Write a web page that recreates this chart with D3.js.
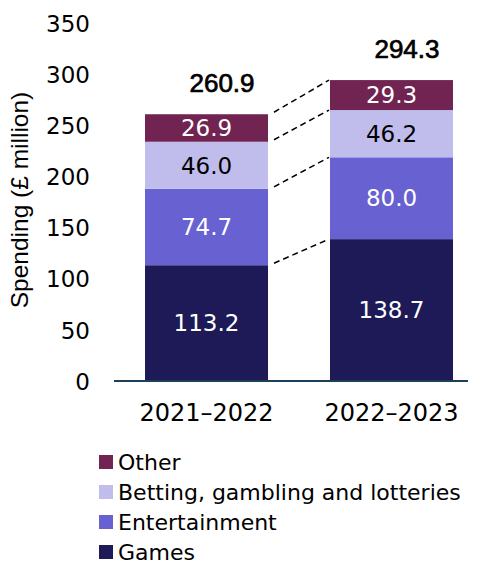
<!DOCTYPE html>
<html>
<head>
<meta charset="utf-8">
<script src="https://cdn.jsdelivr.net/npm/d3@7"></script>
<style>
  body { margin: 0; background: #fff; }
  svg { display: block; font-family: "DejaVu Sans", sans-serif; }
</style>
</head>
<body>
<svg id="chart" width="479" height="566"></svg>
<script>
// Spending by category, £ million
const periods = ["2021\u20132022", "2022\u20132023"];
const seriesNames = ["Games", "Entertainment", "Betting, gambling and lotteries", "Other"];
const games = [113.2, 138.7];
const entertainment = [74.7, 80.0];
const betting = [46.0, 46.2];
const other = [26.9, 29.3];
const totals = [260.9, 294.3];
const yTicks = [0, 50, 100, 150, 200, 250, 300, 350];

const colors = {
  "Games": "#1d1a57",
  "Entertainment": "#6861d2",
  "Betting, gambling and lotteries": "#c0bcec",
  "Other": "#712452"
};
const labelColors = {
  "Games": "#fff",
  "Entertainment": "#fff",
  "Betting, gambling and lotteries": "#000",
  "Other": "#fff"
};

const table = periods.map((p, i) => ({
  period: p,
  "Games": games[i],
  "Entertainment": entertainment[i],
  "Betting, gambling and lotteries": betting[i],
  "Other": other[i],
  total: totals[i]
}));

const svg = d3.select("#chart");

const y = d3.scaleLinear().domain([0, 350]).range([381, 23]);
const x = d3.scaleBand().domain(periods).range([114, 484])
  .paddingInner(0.335).paddingOuter(0.1676);

const stack = d3.stack().keys(seriesNames);
const layers = stack(table);

// y-axis tick labels (no domain line, no tick marks)
const yAxis = d3.axisLeft(y).tickValues(yTicks).tickSize(0).tickPadding(0);
const gy = svg.append("g").attr("transform", "translate(90,0)").call(yAxis);
gy.select(".domain").remove();
gy.selectAll("text")
  .attr("font-family", "DejaVu Sans, sans-serif")
  .attr("font-size", 23)
  .attr("fill", "#000")
  .attr("dy", "0.36em");

// y-axis title
svg.append("text")
  .attr("transform", `translate(28,200) rotate(-90)`)
  .attr("text-anchor", "middle")
  .attr("font-family", "Liberation Sans, Arial, sans-serif")
  .attr("font-size", 24.5)
  .attr("fill", "#000")
  .text("Spending (\u00a3 million)");

// stacked bars
const gl = svg.append("g").selectAll("g").data(layers).join("g")
  .attr("fill", d => colors[d.key]);

gl.selectAll("rect").data(d => d).join("rect")
  .attr("x", d => x(d.data.period))
  .attr("width", x.bandwidth())
  .attr("y", d => y(d[1]))
  .attr("height", d => y(d[0]) - y(d[1]));

// segment value labels
svg.append("g").selectAll("g").data(layers).join("g")
  .each(function(layer) {
    d3.select(this).selectAll("text").data(layer).join("text")
      .attr("x", d => x(d.data.period) + x.bandwidth() / 2)
      .attr("y", d => (y(d[0]) + y(d[1])) / 2)
      .attr("dy", "0.36em")
      .attr("text-anchor", "middle")
      .attr("font-size", 23)
      .attr("fill", labelColors[layer.key])
      .text(d => (d[1] - d[0]).toFixed(1));
  });

// totals above the bars
svg.append("g").selectAll("text").data(table).join("text")
  .attr("x", d => x(d.period) + x.bandwidth() / 2 + 15.5)
  .attr("y", d => y(d.total) - 22)
  .attr("text-anchor", "middle")
  .attr("font-family", "Liberation Sans, Arial, sans-serif")
  .attr("font-size", 26)
  .attr("fill", "#000")
  .attr("stroke", "#000")
  .attr("stroke-width", 0.7)
  .text(d => d.total.toFixed(1));

// dashed connectors between matching segment boundaries
const boundaries = [0, 1, 2, 3].map(k => [layers[k][0][1], layers[k][1][1]]);
svg.append("g").selectAll("line").data(boundaries).join("line")
  .attr("x1", x(periods[0]) + x.bandwidth() + 6)
  .attr("x2", x(periods[1]) - 1)
  .attr("y1", d => y(d[0]) - 2)
  .attr("y2", d => y(d[1]))
  .attr("stroke", "#000")
  .attr("stroke-width", 1.5)
  .attr("stroke-dasharray", "6,4");

// baseline
svg.append("line")
  .attr("x1", 114).attr("x2", 468)
  .attr("y1", y(0)).attr("y2", y(0))
  .attr("stroke", "#1c3f5b")
  .attr("stroke-width", 2);

// category labels
svg.append("g").selectAll("text").data(periods).join("text")
  .attr("x", d => x(d) + x.bandwidth() / 2)
  .attr("y", 421)
  .attr("text-anchor", "middle")
  .attr("font-size", 24)
  .attr("fill", "#000")
  .text(d => d);

// legend
const legendOrder = ["Other", "Betting, gambling and lotteries", "Entertainment", "Games"];
const lg = svg.append("g").selectAll("g").data(legendOrder).join("g")
  .attr("transform", (d, i) => `translate(99,${455 + i * 30})`);
lg.append("rect").attr("width", 14).attr("height", 14).attr("fill", d => colors[d]);
lg.append("text")
  .attr("x", 19).attr("y", 15)
  .attr("font-size", 22)
  .attr("fill", "#000")
  .text(d => d);
</script>
</body>
</html>
